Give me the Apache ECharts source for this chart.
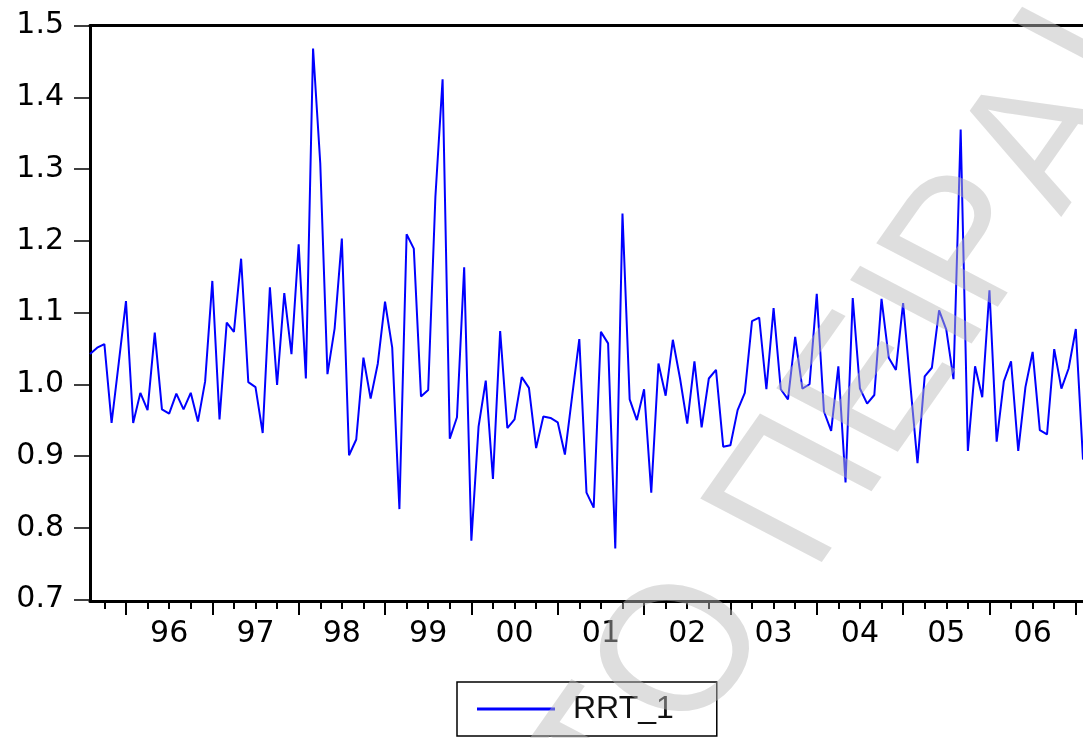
<!DOCTYPE html>
<html>
<head>
<meta charset="utf-8">
<script src="https://cdn.jsdelivr.net/npm/echarts@6/dist/echarts.min.js"></script>
<style>
html,body{margin:0;padding:0;background:#fff;}
#chart{width:1083px;height:738px;}
</style>
</head>
<body>
<div id="chart"></div>
<script>
// Monthly observations, Aug 1995 .. Feb 2007
const startYear = 1995, startMonth = 8, nObs = 139;
const months = [];
for (let k = 0; k < nObs; k++) {
  const m0 = startMonth - 1 + k;
  const y = startYear + Math.floor(m0 / 12);
  const m = (m0 % 12) + 1;
  months.push(y + '-' + (m < 10 ? '0' + m : '' + m));
}
const seriesName = 'RRT_1';
const rrt1 = [
  1.042, 1.051, 1.056, 0.946, 1.030,                                        // 1995 Aug-Dec
  1.116, 0.946, 0.988, 0.964, 1.072, 0.965, 0.959, 0.987, 0.965, 0.988, 0.948, 1.004, // 1996
  1.144, 0.951, 1.086, 1.073, 1.175, 1.003, 0.996, 0.932, 1.135, 0.999, 1.127, 1.042, // 1997
  1.195, 1.008, 1.468, 1.308, 1.014, 1.078, 1.203, 0.901, 0.923, 1.037, 0.980, 1.029, // 1998
  1.115, 1.051, 0.826, 1.209, 1.189, 0.983, 0.992, 1.261, 1.425, 0.924, 0.954, 1.163, // 1999
  0.782, 0.941, 1.005, 0.868, 1.074, 0.939, 0.951, 1.010, 0.995, 0.911, 0.955, 0.953, // 2000
  0.947, 0.902, 0.983, 1.063, 0.849, 0.828, 1.073, 1.057, 0.771, 1.238, 0.979, 0.950, // 2001
  0.993, 0.849, 1.029, 0.984, 1.062, 1.008, 0.945, 1.032, 0.940, 1.008, 1.020, 0.913, // 2002
  0.915, 0.964, 0.988, 1.088, 1.093, 0.993, 1.106, 0.993, 0.979, 1.066, 0.994, 1.000, // 2003
  1.126, 0.962, 0.935, 1.025, 0.863, 1.120, 0.994, 0.973, 0.985, 1.119, 1.037, 1.020, // 2004
  1.113, 1.000, 0.890, 1.011, 1.023, 1.103, 1.076, 1.007, 1.355, 0.907, 1.025, 0.982, // 2005
  1.131, 0.920, 1.004, 1.032, 0.907, 0.996, 1.045, 0.936, 0.930, 1.049, 0.994, 1.022, // 2006
  1.077, 0.895                                                               // 2007 Jan-Feb
];
const yTicks = { min: 0.7, max: 1.5, step: 0.1 };
// watermark (background stamp of the scanned page)
const watermarkLetters = ['Τ', 'Ο', 'Π', 'Ε', 'Ι', 'Ρ', 'Α', 'Ι'];

const FONT = "'DejaVu Sans', 'Liberation Sans', Arial, sans-serif";
const WFONT = "'Liberation Sans', Arial, sans-serif";
const chart = echarts.init(document.getElementById('chart'), null, { renderer: 'canvas' });
const isMonth = (v, list) => list.some(s => v.endsWith(s));

// watermark layout (decoration, not data)
const wmStretch = 1.16, wmAngle = 58.8 * Math.PI / 180, wmSize = 178;
const wmCenters = [[614, 760], [687, 654], [803, 494], [876, 388], [928, 311], [976, 243], [1048, 141], [1090, 52]];
const wmChildren = watermarkLetters.map((ch, k) => ({
  type: 'text', x: wmCenters[k][0] / wmStretch, y: wmCenters[k][1], rotation: wmAngle,
  silent: true, z: 100,
  style: { text: ch, font: wmSize + 'px ' + WFONT, fill: 'rgba(187,187,187,0.48)',
    textAlign: 'center', align: 'center', textVerticalAlign: 'middle', verticalAlign: 'middle' }
}));

const option = {
  animation: false,
  backgroundColor: '#fff',
  grid: { left: 90, top: 25.5, width: 993.6, height: 574, containLabel: false },
  legend: {
    data: [seriesName], left: 457, top: 682, padding: [11, 43, 11, 20],
    borderColor: '#000', borderWidth: 1.5, itemWidth: 78, itemHeight: 3, icon: 'rect', itemGap: 0,
    textStyle: { fontSize: 32, fontFamily: WFONT, color: '#111', lineHeight: 32, padding: [0, 0, 0, 13] }
  },
  xAxis: [
    { type: 'category', data: months, boundaryGap: false, position: 'bottom', offset: 2,
      axisLine: { show: true, lineStyle: { color: '#000', width: 3 } },
      axisTick: { show: true, length: 13.5, interval: (i, v) => isMonth(v, ['-01']), lineStyle: { color: '#000', width: 2 } },
      axisLabel: { show: true, interval: (i, v) => isMonth(v, ['-07']), formatter: v => v.slice(2, 4),
        fontSize: 30, fontFamily: FONT, color: '#000', margin: 18 },
      splitLine: { show: false } },
    { type: 'category', data: months, boundaryGap: false, position: 'bottom', offset: 2,
      axisLine: { show: false },
      axisTick: { show: true, length: 7.5, interval: (i, v) => isMonth(v, ['-04', '-07', '-10']), lineStyle: { color: '#000', width: 2 } },
      axisLabel: { show: false }, splitLine: { show: false } },
    { type: 'category', data: months, boundaryGap: false, position: 'top',
      axisLine: { show: true, lineStyle: { color: '#000', width: 3 } },
      axisTick: { show: false }, axisLabel: { show: false }, splitLine: { show: false } }
  ],
  yAxis: {
    type: 'value', min: yTicks.min, max: yTicks.max, interval: yTicks.step,
    axisLine: { show: true, lineStyle: { color: '#000', width: 3 } },
    axisTick: { show: true, length: 16, lineStyle: { color: '#000', width: 1.5 } },
    axisLabel: { fontSize: 30, fontFamily: FONT, color: '#000', margin: 26, formatter: v => v.toFixed(1) },
    splitLine: { show: false }
  },
  series: [{ name: seriesName, type: 'line', data: rrt1, symbol: 'none', showSymbol: false,
    lineStyle: { color: '#0000ff', width: 2 }, itemStyle: { color: '#0000ff' }, z: 2 }],
  graphic: [{
    type: 'group', x: 0, y: 0, scaleX: wmStretch, scaleY: 1, z: 100, silent: true,
    children: wmChildren
  }]
};
chart.setOption(option);
</script>
</body>
</html>
